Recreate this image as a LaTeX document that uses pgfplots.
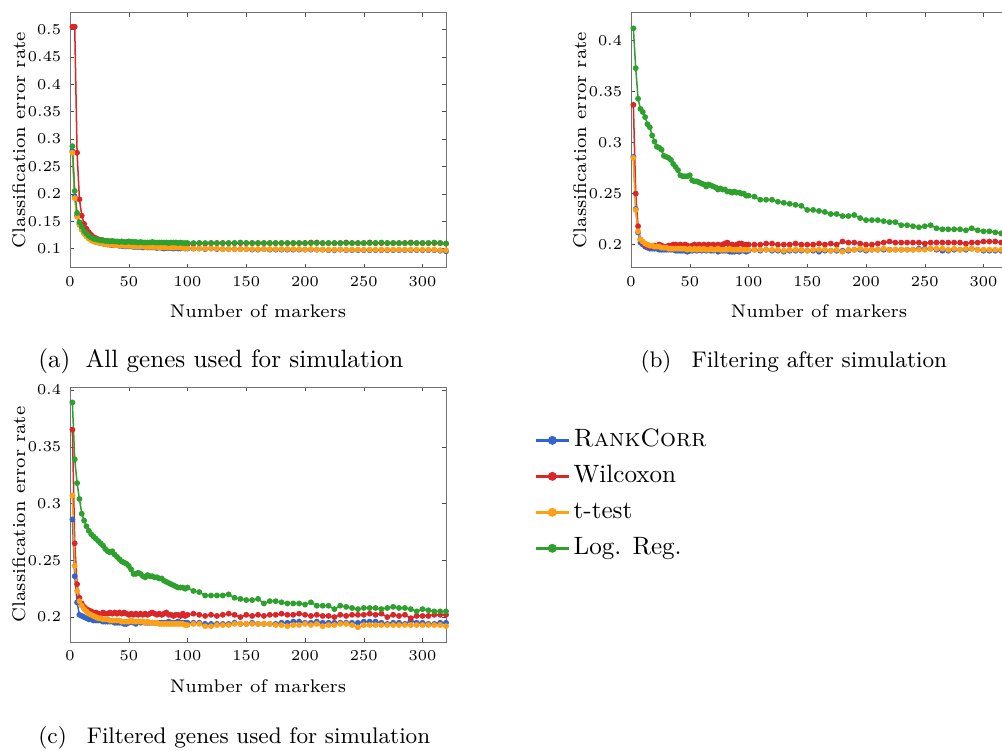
\documentclass[border=0pt]{standalone}
\usepackage{fontspec}
\usepackage{pgfplots}
\usepackage{pgfplotstable}
\pgfplotsset{compat=1.18}

\definecolor{cblue}{RGB}{50,100,205}
\definecolor{cred}{RGB}{218,38,40}
\definecolor{corange}{RGB}{255,160,20}
\definecolor{cgreen}{RGB}{45,160,45}

\pgfplotstableread{
x rc wil tt lr
2 0.278 0.505 0.275 0.287
4 0.195 0.505 0.192 0.205
6 0.160 0.275 0.158 0.165
8 0.145 0.190 0.143 0.148
10 0.135 0.160 0.134 0.140
12 0.128 0.145 0.127 0.132
14 0.123 0.136 0.122 0.127
16 0.119 0.130 0.118 0.123
18 0.116 0.125 0.115 0.120
20 0.114 0.121 0.113 0.118
22 0.112 0.119 0.112 0.117
24 0.111 0.117 0.111 0.116
26 0.110 0.116 0.110 0.115
28 0.109 0.115 0.109 0.115
30 0.108 0.114 0.108 0.114
32 0.108 0.113 0.107 0.114
34 0.107 0.113 0.107 0.113
36 0.106 0.112 0.107 0.114
38 0.106 0.112 0.106 0.113
40 0.106 0.111 0.106 0.113
42 0.105 0.111 0.106 0.112
44 0.105 0.111 0.106 0.113
46 0.104 0.110 0.105 0.112
48 0.104 0.110 0.105 0.112
50 0.104 0.110 0.105 0.113
52 0.104 0.109 0.105 0.112
54 0.103 0.109 0.104 0.112
56 0.103 0.109 0.104 0.112
58 0.103 0.109 0.104 0.111
60 0.103 0.108 0.104 0.112
62 0.102 0.108 0.104 0.111
64 0.103 0.108 0.103 0.111
66 0.102 0.108 0.103 0.111
68 0.102 0.108 0.103 0.111
70 0.102 0.108 0.103 0.112
72 0.102 0.108 0.103 0.111
74 0.101 0.108 0.103 0.111
76 0.102 0.107 0.102 0.111
78 0.101 0.108 0.102 0.111
80 0.100 0.108 0.102 0.111
82 0.101 0.107 0.102 0.111
84 0.101 0.108 0.102 0.110
86 0.101 0.108 0.102 0.111
88 0.100 0.108 0.102 0.111
90 0.101 0.107 0.102 0.111
92 0.100 0.108 0.102 0.110
94 0.100 0.108 0.102 0.111
96 0.101 0.108 0.101 0.110
98 0.100 0.108 0.101 0.110
100 0.100 0.108 0.101 0.110
105 0.100 0.109 0.100 0.110
110 0.100 0.110 0.100 0.110
115 0.099 0.109 0.100 0.110
120 0.100 0.110 0.100 0.110
125 0.099 0.110 0.100 0.110
130 0.099 0.110 0.099 0.110
135 0.099 0.110 0.099 0.110
140 0.099 0.110 0.099 0.110
145 0.099 0.110 0.099 0.111
150 0.099 0.110 0.099 0.110
155 0.098 0.110 0.099 0.110
160 0.098 0.110 0.099 0.110
165 0.099 0.110 0.099 0.110
170 0.098 0.110 0.099 0.110
175 0.098 0.110 0.099 0.110
180 0.098 0.110 0.099 0.110
185 0.098 0.110 0.099 0.110
190 0.098 0.110 0.099 0.110
195 0.098 0.110 0.099 0.110
200 0.098 0.110 0.098 0.110
205 0.098 0.111 0.099 0.110
210 0.098 0.111 0.098 0.110
215 0.098 0.110 0.098 0.110
220 0.097 0.110 0.098 0.110
225 0.097 0.110 0.098 0.110
230 0.098 0.110 0.098 0.110
235 0.097 0.111 0.098 0.110
240 0.097 0.110 0.098 0.110
245 0.097 0.110 0.098 0.110
250 0.097 0.110 0.098 0.110
255 0.097 0.111 0.098 0.110
260 0.097 0.110 0.098 0.110
265 0.097 0.110 0.098 0.111
270 0.097 0.110 0.098 0.110
275 0.097 0.110 0.098 0.110
280 0.097 0.110 0.098 0.110
285 0.097 0.110 0.098 0.110
290 0.097 0.111 0.098 0.110
295 0.097 0.110 0.098 0.110
300 0.097 0.110 0.098 0.110
305 0.097 0.110 0.098 0.110
310 0.097 0.110 0.098 0.111
315 0.096 0.110 0.097 0.110
320 0.095 0.109 0.097 0.109
}\tableA

\pgfplotstableread{
x rc wil tt lr
2 0.286 0.337 0.285 0.412
4 0.235 0.250 0.234 0.373
6 0.212 0.218 0.213 0.343
8 0.202 0.205 0.205 0.333
10 0.200 0.202 0.203 0.330
12 0.198 0.200 0.201 0.325
14 0.197 0.199 0.200 0.318
16 0.196 0.198 0.199 0.315
18 0.196 0.198 0.199 0.307
20 0.196 0.199 0.198 0.301
22 0.196 0.198 0.198 0.296
24 0.195 0.200 0.198 0.295
26 0.195 0.199 0.197 0.293
28 0.195 0.198 0.197 0.287
30 0.195 0.198 0.197 0.286
32 0.195 0.199 0.196 0.285
34 0.195 0.199 0.196 0.283
36 0.195 0.200 0.196 0.279
38 0.194 0.200 0.196 0.276
40 0.194 0.199 0.196 0.273
42 0.194 0.200 0.196 0.268
44 0.194 0.199 0.196 0.267
46 0.194 0.200 0.196 0.267
48 0.193 0.199 0.195 0.267
50 0.194 0.198 0.196 0.268
52 0.194 0.199 0.195 0.263
54 0.195 0.200 0.196 0.262
56 0.194 0.199 0.195 0.262
58 0.195 0.200 0.196 0.261
60 0.194 0.199 0.195 0.260
62 0.195 0.200 0.196 0.259
64 0.194 0.199 0.195 0.257
66 0.195 0.200 0.195 0.259
68 0.194 0.199 0.196 0.258
70 0.194 0.200 0.195 0.257
72 0.195 0.199 0.195 0.256
74 0.193 0.200 0.196 0.254
76 0.194 0.199 0.195 0.255
78 0.194 0.200 0.195 0.254
80 0.194 0.201 0.195 0.254
82 0.194 0.202 0.195 0.252
84 0.193 0.199 0.196 0.252
86 0.193 0.200 0.195 0.251
88 0.193 0.199 0.195 0.252
90 0.194 0.200 0.195 0.251
92 0.193 0.201 0.195 0.251
94 0.194 0.201 0.195 0.250
96 0.194 0.200 0.195 0.250
98 0.193 0.200 0.195 0.248
100 0.194 0.200 0.195 0.248
105 0.195 0.200 0.195 0.247
110 0.194 0.200 0.195 0.244
115 0.195 0.201 0.195 0.244
120 0.194 0.201 0.195 0.244
125 0.194 0.200 0.195 0.242
130 0.193 0.200 0.194 0.241
135 0.194 0.200 0.195 0.240
140 0.194 0.201 0.195 0.239
145 0.194 0.200 0.195 0.238
150 0.194 0.200 0.194 0.234
155 0.194 0.200 0.195 0.234
160 0.193 0.201 0.195 0.233
165 0.194 0.200 0.195 0.232
170 0.194 0.201 0.194 0.230
175 0.194 0.200 0.195 0.230
180 0.194 0.203 0.193 0.228
185 0.194 0.202 0.195 0.228
190 0.195 0.202 0.195 0.229
195 0.195 0.201 0.196 0.226
200 0.194 0.200 0.195 0.224
205 0.195 0.200 0.195 0.224
210 0.195 0.201 0.195 0.224
215 0.195 0.202 0.196 0.223
220 0.195 0.203 0.195 0.222
225 0.195 0.202 0.195 0.222
230 0.195 0.202 0.195 0.219
235 0.195 0.202 0.195 0.219
240 0.195 0.202 0.195 0.218
245 0.196 0.202 0.195 0.217
250 0.196 0.201 0.195 0.218
255 0.196 0.202 0.196 0.219
260 0.195 0.202 0.196 0.216
265 0.194 0.202 0.196 0.215
270 0.194 0.202 0.195 0.215
275 0.195 0.202 0.196 0.215
280 0.195 0.202 0.195 0.215
285 0.195 0.201 0.196 0.214
290 0.196 0.202 0.196 0.216
295 0.195 0.202 0.195 0.214
300 0.194 0.203 0.195 0.213
305 0.194 0.203 0.195 0.213
310 0.194 0.203 0.195 0.212
315 0.194 0.202 0.195 0.211
320 0.194 0.202 0.195 0.211
}\tableB

\pgfplotstableread{
x rc wil tt lr
2 0.286 0.365 0.307 0.389
4 0.236 0.265 0.245 0.339
6 0.213 0.229 0.223 0.318
8 0.202 0.217 0.214 0.304
10 0.201 0.212 0.210 0.291
12 0.200 0.209 0.207 0.285
14 0.199 0.207 0.205 0.280
16 0.198 0.206 0.203 0.276
18 0.198 0.205 0.202 0.273
20 0.197 0.204 0.201 0.271
22 0.197 0.204 0.200 0.269
24 0.197 0.203 0.199 0.267
26 0.197 0.202 0.199 0.265
28 0.196 0.204 0.198 0.263
30 0.196 0.203 0.198 0.260
32 0.196 0.203 0.198 0.258
34 0.196 0.204 0.197 0.257
36 0.196 0.203 0.197 0.258
38 0.195 0.204 0.197 0.255
40 0.195 0.203 0.197 0.253
42 0.195 0.204 0.197 0.251
44 0.195 0.203 0.196 0.249
46 0.194 0.204 0.196 0.248
48 0.194 0.203 0.196 0.247
50 0.195 0.202 0.196 0.245
52 0.196 0.203 0.197 0.242
54 0.195 0.202 0.196 0.238
56 0.194 0.203 0.196 0.238
58 0.196 0.202 0.196 0.239
60 0.195 0.203 0.196 0.238
62 0.196 0.202 0.196 0.236
64 0.195 0.203 0.195 0.235
66 0.195 0.202 0.196 0.237
68 0.195 0.203 0.195 0.236
70 0.195 0.204 0.195 0.236
72 0.195 0.203 0.195 0.235
74 0.195 0.202 0.195 0.235
76 0.195 0.203 0.194 0.234
78 0.195 0.202 0.194 0.234
80 0.195 0.203 0.194 0.232
82 0.195 0.204 0.194 0.231
84 0.196 0.202 0.194 0.230
86 0.195 0.202 0.194 0.229
88 0.195 0.201 0.194 0.228
90 0.195 0.202 0.194 0.227
92 0.196 0.202 0.194 0.226
94 0.195 0.201 0.194 0.226
96 0.195 0.203 0.194 0.226
98 0.195 0.201 0.193 0.225
100 0.195 0.202 0.193 0.226
105 0.195 0.203 0.194 0.223
110 0.195 0.202 0.194 0.222
115 0.194 0.201 0.192 0.219
120 0.194 0.202 0.192 0.219
125 0.194 0.201 0.193 0.219
130 0.194 0.202 0.193 0.219
135 0.194 0.203 0.193 0.220
140 0.195 0.202 0.194 0.217
145 0.194 0.200 0.194 0.216
150 0.194 0.202 0.194 0.215
155 0.195 0.201 0.194 0.215
160 0.194 0.202 0.194 0.216
165 0.194 0.201 0.194 0.212
170 0.194 0.202 0.194 0.214
175 0.194 0.202 0.193 0.214
180 0.195 0.203 0.193 0.213
185 0.195 0.202 0.192 0.212
190 0.196 0.202 0.193 0.212
195 0.196 0.203 0.193 0.212
200 0.195 0.202 0.194 0.211
205 0.195 0.201 0.193 0.213
210 0.196 0.202 0.194 0.210
215 0.195 0.201 0.192 0.210
220 0.195 0.201 0.193 0.210
225 0.195 0.200 0.193 0.207
230 0.195 0.202 0.194 0.210
235 0.195 0.201 0.194 0.209
240 0.195 0.202 0.193 0.208
245 0.195 0.202 0.191 0.207
250 0.196 0.202 0.193 0.208
255 0.196 0.203 0.193 0.208
260 0.196 0.202 0.193 0.208
265 0.195 0.203 0.193 0.207
270 0.194 0.200 0.193 0.208
275 0.195 0.202 0.193 0.209
280 0.195 0.201 0.193 0.208
285 0.194 0.202 0.193 0.208
290 0.197 0.199 0.193 0.207
295 0.195 0.201 0.193 0.205
300 0.195 0.201 0.193 0.207
305 0.194 0.201 0.193 0.206
310 0.194 0.202 0.193 0.205
315 0.195 0.202 0.193 0.205
320 0.195 0.202 0.192 0.205
}\tableC

\pgfplotsset{
  myax/.style={
    scale only axis, width=149.8pt, height=101.6pt,
    anchor=south west,
    xmin=0, xmax=320, xtick={0,50,100,150,200,250,300},
    tick align=inside, major tick length=1.6pt,
    axis line style={black!55}, tick style={black!70},
    tick label style={font=\fontsize{6}{7}\selectfont},
    label style={font=\fontsize{7.3}{8.5}\selectfont},
    xlabel={Number of markers}, ylabel={Classification error rate},
    xlabel style={at={(axis description cs:0.5,-0.172)},anchor=center},
    ylabel style={at={(axis description cs:-0.136,0.5)},anchor=center},
    yticklabel style={/pgf/number format/fixed,/pgf/number format/precision=2},
    every axis plot/.append style={line width=0.6pt, mark=*, mark size=0.85pt},
  },
  rc/.style={color=cblue, mark=*},
  wil/.style={color=cred, mark=*},
  tt/.style={color=corange, mark=*},
  lr/.style={color=cgreen, mark=*},
}

\begin{document}
\begin{tikzpicture}
\useasboundingbox (0,0) rectangle (399.2pt,299.2pt);

% (a)
\begin{axis}[myax, at={(27.9pt,192.6pt)}, ymin=0.0653, ymax=0.531,
  ytick={0.1,0.15,0.2,0.25,0.3,0.35,0.4,0.45,0.5}]
  \addplot[rc] table[x=x,y=rc] {\tableA};
  \addplot[wil] table[x=x,y=wil] {\tableA};
  \addplot[tt] table[x=x,y=tt] {\tableA};
  \addplot[lr] table[x=x,y=lr] {\tableA};
\end{axis}

% (b)
\begin{axis}[myax, at={(251.4pt,192.6pt)}, ymin=0.1775, ymax=0.4275,
  ytick={0.2,0.25,0.3,0.35,0.4}]
  \addplot[rc] table[x=x,y=rc] {\tableB};
  \addplot[wil] table[x=x,y=wil] {\tableB};
  \addplot[tt] table[x=x,y=tt] {\tableB};
  \addplot[lr] table[x=x,y=lr] {\tableB};
\end{axis}

% (c)
\begin{axis}[myax, at={(27.9pt,43.4pt)}, ymin=0.178, ymax=0.4026,
  ytick={0.2,0.25,0.3,0.35,0.4},
  legend style={at={(axis description cs:1.236,0.85)}, anchor=north west,
    draw=none, fill=none, inner sep=0pt, outer sep=0pt,
    font=\fontsize{10}{12}\selectfont, row sep=2.34pt,
    nodes={inner sep=1.5pt, text height=7pt, text depth=2pt}},
  legend cell align=left,
  legend image code/.code={\draw[mark repeat=2,mark phase=2,#1,line width=1pt,mark size=1.25pt] plot coordinates {(0pt,0pt) (6.5pt,0pt) (13pt,0pt)};}]
  \addplot[rc] table[x=x,y=rc] {\tableC};
  \addlegendentry{\textsc{RankCorr}}
  \addplot[wil] table[x=x,y=wil] {\tableC};
  \addlegendentry{Wilcoxon}
  \addplot[tt] table[x=x,y=tt] {\tableC};
  \addlegendentry{t-test}
  \addplot[lr] table[x=x,y=lr] {\tableC};
  \addlegendentry{Log. Reg.}
\end{axis}

\node[anchor=base west, inner sep=0pt, font=\fontsize{10}{12}\selectfont] at (15.1pt,152.6pt) {(a)\hspace{6pt}All genes used for simulation};
\node[anchor=base west, inner sep=0pt, font=\fontsize{9}{11}\selectfont] at (255pt,152.6pt) {(b)\hspace{8pt}Filtering after simulation};
\node[anchor=base west, inner sep=0pt, font=\fontsize{9}{11}\selectfont] at (15.1pt,2.8pt) {(c)\hspace{8pt}Filtered genes used for simulation};
\end{tikzpicture}
\end{document}
